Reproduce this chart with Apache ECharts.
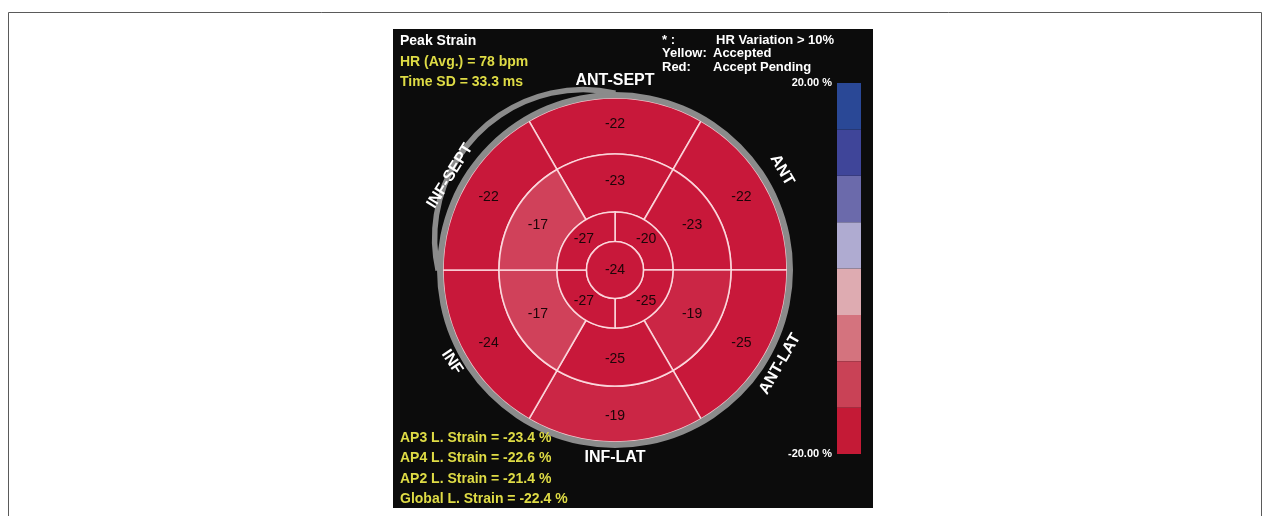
<!DOCTYPE html>
<html>
<head>
<meta charset="utf-8">
<title>Peak Strain bull's-eye</title>
<script src="https://cdn.jsdelivr.net/npm/echarts@6/dist/echarts.min.js"></script>
<style>
  html, body { margin: 0; padding: 0; background: #ffffff; }
  #chart { width: 1266px; height: 516px; }
</style>
</head>
<body>
<div id="chart"></div>
<script>
// ---- Segment data (peak longitudinal strain, %) ----
// Basal and mid rings: six segments, clockwise starting at the top (anterior septum)
const wallNames = ['ANT-SEPT', 'ANT', 'ANT-LAT', 'INF-LAT', 'INF', 'INF-SEPT'];
const basalStrain = [-22, -22, -25, -19, -24, -22];
const midStrain = [-23, -23, -19, -25, -17, -17];
// Apical ring: four segments, clockwise starting upper right
const apicalNames = ['ANT', 'LAT', 'INF', 'SEPT'];
const apicalStrain = [-20, -25, -27, -27];
// Apex cap
const apexStrain = [-24];

// ---- Header and summary values ----
const heartRateAvg = 78;      // bpm
const timeSD = 33.3;          // ms
const summaryNames = ['AP3 L. Strain', 'AP4 L. Strain', 'AP2 L. Strain', 'Global L. Strain'];
const summaryValues = [-23.4, -22.6, -21.4, -22.4];

// ---- Colour scale (-20 % .. +20 %, eight 5 % bins) ----
const scaleEdges = [-20, -15, -10, -5, 0, 5, 10, 15, 20];
const scaleColors = ['#c41a36', '#c94256', '#d4737e', '#deabb1', '#afabd1', '#6b6aab', '#3f4599', '#2a4896'];

// ---- Layout ----
const CX = 615, CY = 270;
const RINGS = [
  { inner: 116, outer: 172, labelR: 146, count: 6, firstCenterDeg: 90 },  // basal
  { inner: 58,  outer: 116, labelR: 89,  count: 6, firstCenterDeg: 90 },  // mid
  { inner: 28.5, outer: 58, labelR: 44,  count: 4, firstCenterDeg: 45 },  // apical
  { inner: 0,   outer: 28.5, labelR: 0,  count: 1, firstCenterDeg: 90 }   // apex
];
const FONT = '"Liberation Sans", Arial, sans-serif';
const YELLOW = '#dedb45';
const DEG = Math.PI / 180;

// One data row per segment: [ring, segment, strain]
const segmentRows = [];
[basalStrain, midStrain, apicalStrain, apexStrain].forEach(function (ringVals, r) {
  ringVals.forEach(function (v, s) { segmentRows.push([r, s, v]); });
});

function renderSegment(params, api) {
  const ring = RINGS[api.value(0)];
  const seg = api.value(1);
  const strain = api.value(2);
  const color = api.visual('color');
  const span = 360 / ring.count;
  const centerDeg = ring.firstCenterDeg - seg * span;     // math angle, counter-clockwise
  const children = [];
  if (ring.count === 1) {
    children.push({
      type: 'circle',
      shape: { cx: CX, cy: CY, r: ring.outer },
      style: { fill: color, stroke: 'rgba(255,228,232,0.85)', lineWidth: 1.6 }
    });
  } else {
    // screen angles grow clockwise
    const start = -(centerDeg + span / 2) * DEG;
    const end = -(centerDeg - span / 2) * DEG;
    children.push({
      type: 'sector',
      shape: { cx: CX, cy: CY, r0: ring.inner, r: ring.outer, startAngle: start, endAngle: end, clockwise: true },
      style: { fill: color, stroke: 'rgba(255,228,232,0.85)', lineWidth: 1.6 }
    });
  }
  const lx = CX + ring.labelR * Math.cos(centerDeg * DEG);
  const ly = CY - ring.labelR * Math.sin(centerDeg * DEG);
  children.push({
    type: 'text',
    x: lx, y: ly,
    style: {
      text: String(strain), fill: '#1c0508',
      font: '14px ' + FONT, align: 'center', verticalAlign: 'middle'
    }
  });
  return { type: 'group', children: children };
}

// Colour-scale bins stacked outward from zero
const scaleSeries = [];
for (let i = 0; i < scaleColors.length; i++) {
  const lo = scaleEdges[i], hi = scaleEdges[i + 1];
  scaleSeries.push({
    order: Math.abs(lo + hi),
    series: {
      type: 'bar', stack: 'scale', silent: true, barWidth: '100%',
      xAxisIndex: 0, yAxisIndex: 0,
      data: [hi <= 0 ? lo - hi : hi - lo],
      itemStyle: { color: scaleColors[i] }
    }
  });
}
scaleSeries.sort(function (a, b) { return a.order - b.order; });

function txt(x, y, text, opts) {
  opts = opts || {};
  return {
    type: 'text', x: x, y: y, rotation: (opts.rot || 0) * DEG, z: 20,
    style: {
      text: text, fill: opts.fill || '#ffffff',
      font: (opts.weight || 'bold') + ' ' + (opts.size || 14) + 'px ' + FONT,
      align: opts.align || 'left', verticalAlign: 'middle'
    }
  };
}

const graphics = [
  // page frame
  { type: 'rect', z: 0, shape: { x: 8.5, y: 12.5, width: 1253, height: 600 },
    style: { fill: 'none', stroke: '#5a5a5a', lineWidth: 1 } },
  // dark panel
  { type: 'rect', z: 0, shape: { x: 393, y: 29, width: 480, height: 479 }, style: { fill: '#0c0c0c' } },
  // grey rim around the bull's-eye
  { type: 'ring', z: 10, shape: { cx: CX, cy: CY, r: 178, r0: 172 }, style: { fill: '#8b8b8b' } },
  // grey crescent sweeping out over the septal wall
  { type: 'arc', z: 10,
    shape: { cx: 583.2, cy: 238.2, r: 148.6, startAngle: -192.5 * DEG, endAngle: -77.5 * DEG, clockwise: true },
    style: { stroke: '#8b8b8b', lineWidth: 5.5, fill: 'none' } },

  // header, left
  txt(400, 41, 'Peak Strain'),
  txt(400, 62, 'HR (Avg.) = ' + heartRateAvg + ' bpm', { fill: YELLOW }),
  txt(400, 82, 'Time SD = ' + timeSD.toFixed(1) + ' ms', { fill: YELLOW }),
  // header, right
  txt(662, 40, '* :', { size: 13 }),
  txt(716, 40, 'HR Variation > 10%', { size: 13 }),
  txt(662, 53.5, 'Yellow:', { size: 13 }),
  txt(713, 53.5, 'Accepted', { size: 13 }),
  txt(662, 67, 'Red:', { size: 13 }),
  txt(713, 67, 'Accept Pending', { size: 13 }),

  // wall names around the rim
  txt(615, 81, wallNames[0], { size: 16, align: 'center' }),
  txt(782, 170, wallNames[1], { size: 16, align: 'center', rot: -60 }),
  txt(780, 364, wallNames[2], { size: 16, align: 'center', rot: 60 }),
  txt(615, 458, wallNames[3], { size: 16, align: 'center' }),
  txt(452, 362, wallNames[4], { size: 16, align: 'center', rot: -56 }),
  txt(450, 176, wallNames[5], { size: 16, align: 'center', rot: 58 })
];

// summary strains, bottom left
summaryNames.forEach(function (name, i) {
  graphics.push(txt(400, 438 + i * 20.5, name + ' = ' + summaryValues[i].toFixed(1) + ' %', { fill: YELLOW }));
});

const chart = echarts.init(document.getElementById('chart'), null, { renderer: 'canvas' });
chart.setOption({
  backgroundColor: '#ffffff',
  animation: false,
  grid: { left: 837, top: 83, width: 24, height: 371 },
  xAxis: { type: 'category', data: ['scale'], show: false },
  yAxis: {
    type: 'value', min: -20, max: 20, interval: 5,
    axisLine: { show: false }, axisTick: { show: false }, splitLine: { show: false },
    axisLabel: {
      margin: 5, color: '#ffffff', fontSize: 11, fontWeight: 'bold', fontFamily: FONT,
      formatter: function (v) { return Math.abs(v) === 20 ? v.toFixed(2) + ' %' : ''; }
    }
  },
  visualMap: {
    show: false, type: 'continuous', seriesIndex: 0, dimension: 2,
    // strain at or below -20 % saturates at the deepest red
    min: -30, max: 20,
    inRange: { color: ['#c8183a', '#c8183a', '#c8183a', '#d65c70', '#dc8e99', '#e0b0b6', '#b2aed2', '#8d8cc0', '#6c6cab', '#4a4c9d', '#2a4896'] }
  },
  graphic: { elements: graphics },
  series: [{
    type: 'custom',
    coordinateSystem: 'none',
    silent: true,
    z: 5,
    renderItem: renderSegment,
    data: segmentRows
  }].concat(scaleSeries.map(function (s) { return s.series; }))
});
</script>
</body>
</html>
